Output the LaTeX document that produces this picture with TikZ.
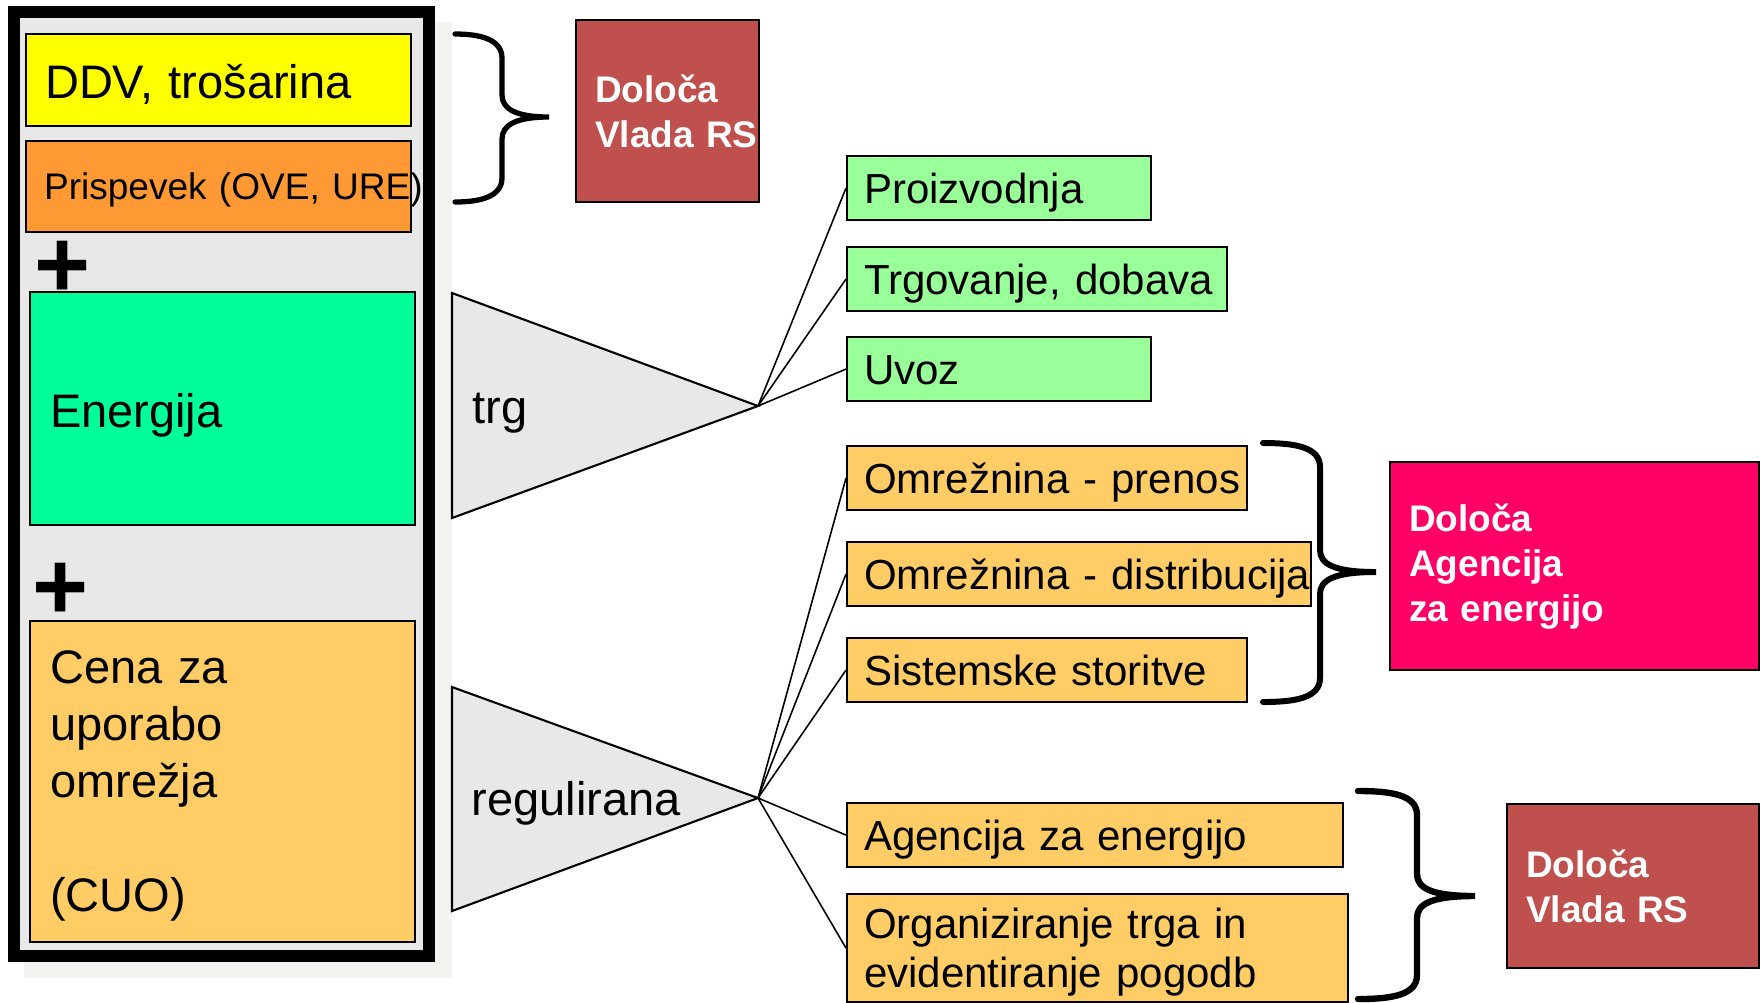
\documentclass[tikz,border=0pt]{standalone}
\usepackage{fontspec}
\setmainfont{Liberation Sans}
\definecolor{panel}{HTML}{E8E8E8}
\definecolor{backdrop}{HTML}{F3F3EF}
\definecolor{ddvfill}{HTML}{FFFF00}
\definecolor{prisfill}{HTML}{FF9933}
\definecolor{enfill}{HTML}{00FF99}
\definecolor{regfill}{HTML}{FFCC66}
\definecolor{trgfill}{HTML}{99FF99}
\definecolor{vladafill}{HTML}{C0504D}
\definecolor{agenfill}{HTML}{FF0066}
\tikzset{
  box/.style={draw, line width=0.6pt, anchor=north west, inner xsep=0.17cm, inner ysep=0pt, align=left},
  oneline/.style={text height=0.38cm, text depth=0.07cm},
  rbox/.style={box, oneline, minimum height=0.64cm, font=\fontsize{11.95pt}{13.66pt}\selectfont},
  whobox/.style={box, inner xsep=0.19cm, text=white, font=\bfseries\fontsize{10.53pt}{12.8pt}\selectfont},
  plus/.style={inner sep=0pt, font=\bfseries\fontsize{27.3pt}{27.3pt}\selectfont},
  tri/.style={draw, line width=0.6pt, fill=panel},
  link/.style={line width=0.45pt},
  big/.style={font=\fontsize{13.37pt}{16.2pt}\selectfont}
}
\begin{document}
\begin{tikzpicture}[x=0.01cm, y=-0.01cm]
  \useasboundingbox (0,0) rectangle (1761,1002);
  \fill[backdrop] (24,22) rectangle (452,978);
  \draw[line width=3.41pt, fill=panel] (14,12) rectangle (429,956);
  \node[box, big, fill=ddvfill, inner xsep=0.19cm, text width=3.47cm, minimum height=0.92cm,
    text height=0.42cm, text depth=0.06cm] (ddv) at (25,33) {DDV, trošarina};
  \node[box, fill=prisfill, inner xsep=0.18cm, text width=3.49cm, minimum height=0.91cm,
    text height=0.33cm, text depth=0.08cm, font=\fontsize{10.53pt}{12.8pt}\selectfont]
    (pris) at (25,140) {\mbox{Prispevek (OVE, URE)}};
  \node[plus] (plus1) at (63,269) {+};
  \node[box, big, fill=enfill, inner xsep=0.2cm, text width=3.45cm, minimum height=2.33cm,
    text height=0.43cm, text depth=0.06cm] (en) at (29,291) {Energija};
  \node[plus] (plus2) at (61,591) {+};
  \node[box, big, fill=regfill, inner xsep=0.2cm, text width=3.45cm, minimum height=3.21cm]
    (cuo) at (29,620) {\rule{0pt}{0.421cm}Cena za\\uporabo\\omrežja\\[16.2pt](CUO)};
  \coordinate (trgtip) at (758,406);
  \coordinate (regtip) at (758,798);
  \draw[tri] (452,293) -- (452,518) -- (trgtip) -- cycle;
  \draw[tri] (452,687) -- (452,911) -- (regtip) -- cycle;
  \node[big, anchor=base west, inner sep=0pt] (trg) at (472,423) {trg};
  \node[big, anchor=base west, inner sep=0pt] (reg) at (471,815) {regulirana};
  \node[rbox, fill=trgfill, text width=2.70cm] (proi) at (846,155) {Proizvodnja};
  \node[rbox, fill=trgfill, text width=3.46cm] (trgo) at (846,246) {\mbox{Trgovanje, dobava}};
  \node[rbox, fill=trgfill, text width=2.70cm] (uvoz) at (846,336) {Uvoz};
  \node[rbox, fill=regfill, text width=3.66cm] (prenos) at (846,445) {\mbox{Omrežnina - prenos}};
  \node[rbox, fill=regfill, text width=4.30cm] (distr) at (846,541) {\mbox{Omrežnina - distribucija}};
  \node[rbox, fill=regfill, text width=3.66cm] (sist) at (846,637) {\mbox{Sistemske storitve}};
  \node[rbox, fill=regfill, text width=4.62cm] (agen) at (846,802) {\mbox{Agencija za energijo}};
  \node[box, fill=regfill, text width=4.67cm, minimum height=1.08cm,
    font=\fontsize{11.95pt}{13.94pt}\selectfont]
    (org) at (846,893) {\rule{0pt}{0.378cm}\mbox{Organiziranje trga in}\\\mbox{evidentiranje pogodb}};
  \node[whobox, fill=vladafill, text width=1.45cm, minimum height=1.82cm]
    (vlada1) at (575,19) {Določa\\\mbox{Vlada RS}};
  \node[whobox, fill=agenfill, text width=3.31cm, minimum height=2.08cm]
    (agency) at (1389,461) {Določa\\Agencija\\za energijo};
  \node[whobox, fill=vladafill, text width=2.14cm, minimum height=1.64cm]
    (vlada2) at (1506,803) {Določa\\\mbox{Vlada RS}};
  \foreach \n in {proi,trgo,uvoz}
    \draw[link] (trgtip) -- (\n.west);
  \foreach \n in {prenos,distr,sist,agen,org}
    \draw[link] (regtip) -- (\n.west);
  \foreach \a/\s/\p/\t/\m/\b/\w in {455/502/549/34/117/202/1.5, 1263/1320/1376/443/572/702/1.7, 1358/1417/1475/791/896/999/1.8}
    \draw[line width=\w pt, line cap=round]
      (\a,\t) .. controls (\s-25,\t) and (\s,\t+4) .. (\s,\t+24) -- (\s,\m-22)
      .. controls (\s,\m-8) and (\s+14,\m) .. (\p,\m)
      .. controls (\s+14,\m) and (\s,\m+8) .. (\s,\m+22) -- (\s,\b-24)
      .. controls (\s,\b-4) and (\s-25,\b) .. (\a,\b);
\end{tikzpicture}
\end{document}
